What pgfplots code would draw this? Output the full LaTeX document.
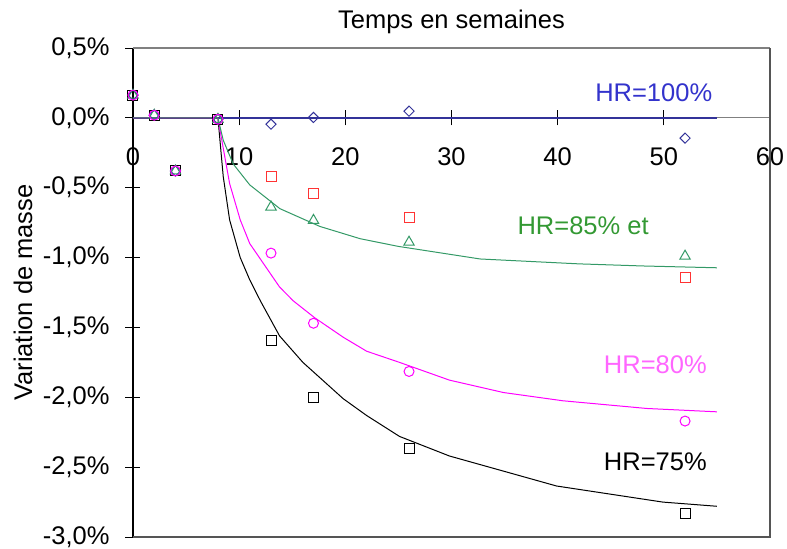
\documentclass[border=0pt]{standalone}
\usepackage{pgfplots}
\pgfplotsset{compat=1.18}
\usepackage{fontspec}
\setmainfont{Liberation Sans}

\definecolor{hrnavy}{HTML}{333399}
\definecolor{hrblue}{HTML}{3333CC}
\definecolor{hrgreen}{HTML}{339966}
\definecolor{hrgreentxt}{HTML}{339933}
\definecolor{hrpink}{HTML}{FF00FF}
\definecolor{hrpinktxt}{HTML}{FF66FF}
\definecolor{hrred}{HTML}{FF3333}
\definecolor{frame}{HTML}{555555}

\newcommand{\fs}{\fontsize{12.75}{15}\selectfont}

\begin{document}
\begin{tikzpicture}
\begin{axis}[
  scale only axis, width=318.5pt, height=244.5pt,
  xmin=0, xmax=60, ymin=-3, ymax=0.5,
  axis lines=middle, axis line style={-},
  x axis line style={gray, line width=0.6pt},
  y axis line style={black, line width=0.6pt},
  hide obscured x ticks=false, hide obscured y ticks=false,
  xtick={0,10,20,30,40,50,60},
  xticklabels={0,10,20,30,40,50,60},
  ytick={-3,-2.5,-2,-1.5,-1,-0.5,0,0.5},
  yticklabels={{-3,0\%},{-2,5\%},{-2,0\%},{-1,5\%},{-1,0\%},{-0,5\%},{0,0\%},{0,5\%}},
  tick align=center, major tick length=7.5pt,
  tick style={black, line width=0.5pt},
  xticklabel style={font=\fs, anchor=north, inner sep=0pt, yshift=-11pt},
  yticklabel style={font=\fs, anchor=east, inner sep=0pt, xshift=-7.75pt},
  clip=false,
]
\coordinate (SW) at (rel axis cs:0,0);
\draw[gray, line width=0.6pt] (rel axis cs:0,1) -- (rel axis cs:1,1);
\draw[frame, line width=0.6pt] (rel axis cs:1,1) -- (rel axis cs:1,0) -- (rel axis cs:0,0);

% modelled curves
\addplot[hrnavy, line width=1pt] coordinates {(0,0) (55,0)};
\addplot[black, line width=0.5pt] coordinates {
  (0,0) (8,0) (8.5,-0.42) (9.1,-0.73) (10.1,-1.0) (11,-1.16) (12,-1.31)
  (13.8,-1.56) (16,-1.75) (19.8,-2.01) (22,-2.13) (25.1,-2.28) (29.8,-2.42)
  (39.9,-2.635) (49.9,-2.75) (55,-2.78)};
\addplot[hrpink, line width=0.5pt] coordinates {
  (0,0) (8,0) (8.2,-0.09) (9.1,-0.47) (10.1,-0.73) (11,-0.90) (13.8,-1.21)
  (15.1,-1.31) (17.1,-1.43) (19.8,-1.57) (22,-1.67) (25.1,-1.75) (29.8,-1.877)
  (34.9,-1.966) (40.5,-2.025) (48.4,-2.08) (55,-2.104)};
\addplot[hrgreen, line width=0.5pt] coordinates {
  (0,0) (8,0) (8.5,-0.16) (9.44,-0.33) (11,-0.48) (13.84,-0.65) (17.6,-0.777)
  (21.4,-0.865) (25,-0.92) (32.7,-1.01) (42,-1.045) (48,-1.06) (55,-1.073)};

% measurements
\addplot[only marks, mark=square, mark size=1.8pt, mark options={rotate=45, hrnavy, line width=0.5pt}]
  coordinates {(0,0.163) (2,0.019) (4,-0.38) (8,-0.01) (13,-0.045) (17,0.003) (26,0.048) (52,-0.145)};
\addplot[only marks, mark=square, mark size=2.5pt, mark options={hrred, line width=0.5pt}]
  coordinates {(0,0.163) (2,0.019) (4,-0.38) (8,-0.01) (13,-0.423) (17,-0.538) (26,-0.71) (52,-1.14)};
\addplot[only marks, mark=square, mark size=2.5pt, mark options={black, line width=0.5pt}]
  coordinates {(0,0.163) (2,0.019) (4,-0.38) (8,-0.01) (13,-1.595) (17,-2.0) (26,-2.37) (52,-2.83)};
\addplot[only marks, mark=triangle, mark size=3pt, mark options={hrgreen, line width=0.5pt}]
  coordinates {(0,0.163) (2,0.019) (4,-0.38) (8,-0.01) (13,-0.638) (17,-0.734) (26,-0.89) (52,-0.99)};
\addplot[only marks, mark=o, mark size=2.5pt, mark options={hrpink, line width=0.5pt}]
  coordinates {(0,0.163) (2,0.019) (4,-0.38) (8,-0.01) (13,-0.968) (17,-1.47) (26,-1.815) (52,-2.17)};

\node[font=\fs, text=hrblue] at (axis cs:49.05,0.179) {HR=100\%};
\node[font=\fs, text=hrgreentxt] at (axis cs:42.4,-0.77) {HR=85\% et};
\node[font=\fs, text=hrpinktxt] at (axis cs:49.2,-1.77) {HR=80\%};
\node[font=\fs, text=black] at (axis cs:49.2,-2.463) {HR=75\%};

\node[font=\fs, anchor=base] at (rel axis cs:0.5,1) [yshift=10pt] {Temps en semaines};
\path (rel axis cs:0,0.5) ++(-55pt,0pt) node[font=\fs, rotate=90, anchor=center] {Variation de masse};
\end{axis}
\pgfresetboundingbox
\path ([shift={(-66.5pt,-5.5pt)}]SW) rectangle ([shift={(327pt,268.5pt)}]SW);
\end{tikzpicture}
\end{document}
